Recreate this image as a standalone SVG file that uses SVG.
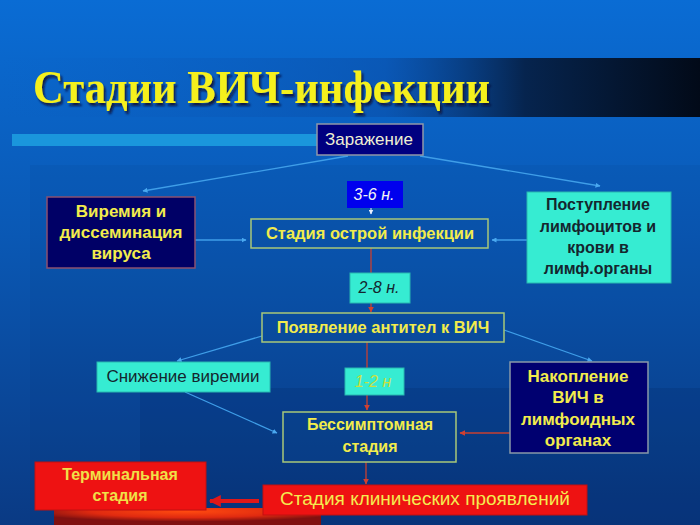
<svg xmlns="http://www.w3.org/2000/svg" width="700" height="525" viewBox="0 0 700 525">
<defs>
<linearGradient id="bg" x1="0" y1="0" x2="0" y2="1">
<stop offset="0" stop-color="#0a6cd4"/>
<stop offset="0.45" stop-color="#0a58b4"/>
<stop offset="1" stop-color="#0a3a84"/>
</linearGradient>
<linearGradient id="band" x1="0" y1="0" x2="1" y2="0">
<stop offset="0" stop-color="#0a5cc0" stop-opacity="0"/>
<stop offset="0.55" stop-color="#0a4ea8" stop-opacity="0.6"/>
<stop offset="0.75" stop-color="#06244e"/>
<stop offset="1" stop-color="#020a18"/>
</linearGradient>
<radialGradient id="glow" cx="0.5" cy="0.2" r="0.6">
<stop offset="0" stop-color="#ff4a10"/>
<stop offset="0.6" stop-color="#e02a10"/>
<stop offset="1" stop-color="#801010"/>
</radialGradient>
<filter id="shadow" x="-5%" y="-20%" width="110%" height="150%">
<feDropShadow dx="2" dy="3" stdDeviation="0.8" flood-color="#101030" flood-opacity="0.85"/>
</filter>
<marker id="ab" viewBox="0 0 10 10" refX="9" refY="5" markerWidth="5" markerHeight="5" orient="auto" markerUnits="userSpaceOnUse">
<path d="M0,0 L10,5 L0,10 z" fill="#4aa8f0"/>
</marker>
<marker id="ar" viewBox="0 0 10 10" refX="9" refY="5" markerWidth="6" markerHeight="6" orient="auto" markerUnits="userSpaceOnUse">
<path d="M0,0 L10,5 L0,10 z" fill="#d04030"/>
</marker>
<marker id="aw" viewBox="0 0 10 10" refX="9" refY="5" markerWidth="5" markerHeight="5" orient="auto" markerUnits="userSpaceOnUse">
<path d="M0,0 L10,5 L0,10 z" fill="#e8f0ff"/>
</marker>
<marker id="abig" viewBox="0 0 10 10" refX="9" refY="5" markerWidth="14" markerHeight="12" orient="auto" markerUnits="userSpaceOnUse">
<path d="M0,0 L10,5 L0,10 z" fill="#e01818"/>
</marker>
</defs>
<style>
text{font-family:"Liberation Sans",Arial,sans-serif;text-anchor:middle}
.b{font-weight:bold}
.y{fill:#f2ec4c}
.dk{fill:#14262e}
.it{font-style:italic}
.navy{fill:#000066;stroke:#8a5070;stroke-width:1.5}
.navy2{fill:#000070;stroke:#8898a8;stroke-width:1.5}
.out{fill:#0a4a98;fill-opacity:0.25;stroke:#a8c878;stroke-width:1.5}
.aqua{fill:#36ecd2;stroke:#28b8b0;stroke-width:1}
.red{fill:#ee1212;stroke:#c01010;stroke-width:1}
.bl{stroke:#3f9ee8;stroke-width:1.3;fill:none}
.rl{stroke:#c84030;stroke-width:1.3;fill:none}
</style>
<rect x="0" y="0" width="700" height="525" fill="url(#bg)"/>
<rect x="30" y="165" width="670" height="360" fill="#001a50" opacity="0.06"/>
<rect x="140" y="388" width="560" height="137" fill="#001040" opacity="0.12"/>
<rect x="0" y="58" width="700" height="59" fill="url(#band)"/>
<rect x="12" y="134" width="305" height="12" fill="#1a96dc"/>
<rect x="54" y="508" width="267" height="17" fill="url(#glow)"/>
<g id="title">
<text x="33" y="103" font-size="47" font-weight="bold" fill="#f5f01e" textLength="457" lengthAdjust="spacingAndGlyphs" filter="url(#shadow)" style="font-family:'Liberation Serif','Times New Roman',serif;text-anchor:start">Стадии ВИЧ-инфекции</text>
</g>
<g id="connectors">
<path class="bl" d="M348,156 L143,191" marker-end="url(#ab)"/>
<path class="bl" d="M420,156 L600,186" marker-end="url(#ab)"/>
<path class="bl" d="M195,240 L246,240" marker-end="url(#ab)"/>
<path class="bl" d="M527,240 L492,240" marker-end="url(#ab)"/>
<path class="bl" d="M262,336 L177,361" marker-end="url(#ab)"/>
<path class="bl" d="M504,330 L592,361" marker-end="url(#ab)"/>
<path class="bl" d="M185,392 L277,433" marker-end="url(#ab)"/>
<path d="M371,208 L371,214" stroke="#e8f0ff" stroke-width="1" marker-end="url(#aw)"/>
<path class="rl" d="M371,248 L371,273"/>
<path class="rl" d="M371,303 L371,312" marker-end="url(#ar)"/>
<path class="rl" d="M367,342 L367,368"/>
<path class="rl" d="M367,395 L367,410" marker-end="url(#ar)"/>
<path class="rl" d="M510,433 L460,433" marker-end="url(#ar)"/>
<path class="rl" d="M366,462 L366,484" marker-end="url(#ar)"/>
<path d="M259,501 L210,501" stroke="#e01818" stroke-width="4" marker-end="url(#abig)"/>
</g>
<g id="n-zarazhenie">
<rect x="317" y="124" width="106" height="31" fill="#000080" stroke="#9098a8" stroke-width="1.5"/>
<text x="369" y="145" font-size="17" fill="#f0f0d4">Заражение</text>
</g>
<g id="n-viremia">
<rect class="navy" x="47" y="197" width="148" height="71"/>
<text class="b y" x="121" y="217" font-size="17">Виремия и</text>
<text class="b y" x="121" y="238" font-size="17">диссеминация</text>
<text class="b y" x="121" y="259" font-size="17">вируса</text>
</g>
<g id="n-36">
<rect x="347" y="181" width="56" height="27" fill="#0000ee"/>
<text class="it" x="374" y="200" font-size="16" fill="#f4f4f4">3-6 н.</text>
</g>
<g id="n-ostraya">
<rect class="out" x="251" y="219" width="237" height="29"/>
<text class="b y" x="370" y="239" font-size="16.5">Стадия острой инфекции</text>
</g>
<g id="n-postuplenie">
<rect class="aqua" x="527" y="192" width="144" height="91"/>
<text class="b dk" x="598" y="210" font-size="16">Поступление</text>
<text class="b dk" x="598" y="232" font-size="16">лимфоцитов и</text>
<text class="b dk" x="598" y="253" font-size="16">крови в</text>
<text class="b dk" x="598" y="274" font-size="16">лимф.органы</text>
</g>
<g id="n-28">
<rect class="aqua" x="350" y="273" width="60" height="30"/>
<text class="it dk" x="379" y="293" font-size="16">2-8 н.</text>
</g>
<g id="n-antitela">
<rect class="out" x="262" y="313" width="242" height="29"/>
<text class="b y" x="383" y="333" font-size="16.5">Появление антител к ВИЧ</text>
</g>
<g id="n-snizhenie">
<rect class="aqua" x="97" y="362" width="173" height="30"/>
<text class="dk" x="183" y="382" font-size="17">Снижение виремии</text>
</g>
<g id="n-12">
<rect class="aqua" x="345" y="368" width="59" height="27"/>
<text class="it" x="373" y="387" font-size="16" fill="#c8e040">1-2 н</text>
</g>
<g id="n-nakoplenie">
<rect class="navy2" x="510" y="362" width="138" height="91"/>
<text class="b y" x="578" y="382" font-size="17">Накопление</text>
<text class="b y" x="578" y="403" font-size="17">ВИЧ в</text>
<text class="b y" x="578" y="425" font-size="17">лимфоидных</text>
<text class="b y" x="578" y="446" font-size="17">органах</text>
</g>
<g id="n-bessimpt">
<rect class="out" x="283" y="412" width="173" height="50"/>
<text class="b y" x="370" y="430" font-size="16">Бессимптомная</text>
<text class="b y" x="370" y="452" font-size="16">стадия</text>
</g>
<g id="n-terminal">
<rect class="red" x="35" y="462" width="171" height="48"/>
<text class="b" x="120" y="480" font-size="16" fill="#f0e048">Терминальная</text>
<text class="b" x="120" y="501" font-size="16" fill="#f0e048">стадия</text>
</g>
<g id="n-klinich">
<rect class="red" x="263" y="485" width="324" height="30"/>
<text x="425" y="505" font-size="19" fill="#f4ec50">Стадия клинических проявлений</text>
</g>
</svg>
